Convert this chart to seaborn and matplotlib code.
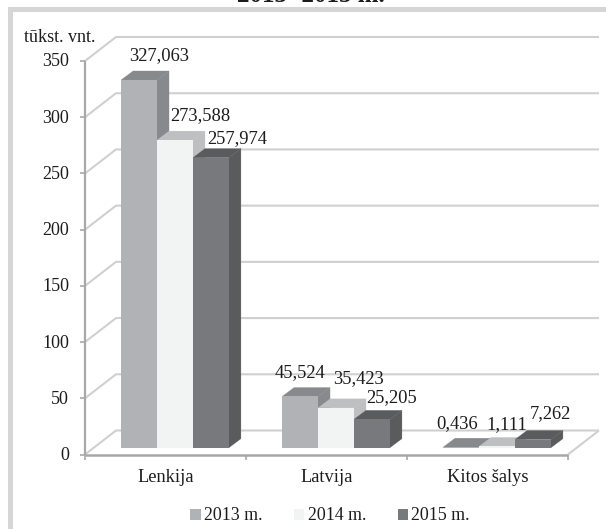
import matplotlib
matplotlib.use("Agg")
import matplotlib.pyplot as plt
import pandas as pd
import seaborn as sns
from matplotlib.lines import Line2D
from matplotlib.patches import Patch, Polygon, Rectangle
from matplotlib.transforms import IdentityTransform

# ---- data ----
countries = ["Lenkija", "Latvija", "Kitos šalys"]
years = ["2013 m.", "2014 m.", "2015 m."]
values_2013 = [327.063, 45.524, 0.436]
values_2014 = [273.588, 35.423, 1.111]
values_2015 = [257.974, 25.205, 7.262]
value_labels_2013 = ["327,063", "45,524", "0,436"]
value_labels_2014 = ["273,588", "35,423", "1,111"]
value_labels_2015 = ["257,974", "25,205", "7,262"]
y_ticks = [0, 50, 100, 150, 200, 250, 300, 350]
title_text = "2013- 2015 m."
unit_text = "tūkst. vnt."

# ---- styles ----
front_colors = ["#b1b2b6", "#f2f3f3", "#78797c"]
side_colors = ["#88898c", "#bebfc1", "#5a5b5d"]
top_colors = ["#88898c", "#bebfc1", "#5a5b5d"]
ink = "#1c1c1c"
W, H = 606, 529

sns.set_theme(style="white")
plt.rcParams["font.family"] = ["Liberation Serif", "DejaVu Serif"]

fig = plt.figure(figsize=(W / 100, H / 100), dpi=100, facecolor="white")
ax = fig.add_axes([85 / W, 1 - 454.5 / H, (568 - 85) / W, (454.5 - 61) / H])
ax.patch.set_alpha(0)

df = pd.DataFrame({
    "country": countries * 3,
    "year": [y for y in years for _ in countries],
    "value": values_2013 + values_2014 + values_2015,
})
sns.barplot(data=df, x="country", y="value", hue="year", palette=front_colors,
            width=0.67, saturation=1, legend=False, ax=ax, linewidth=0)
ax.set_xlim(-0.5, 2.5)
ax.set_ylim(0, 350)
ax.set_xlabel("")
ax.set_ylabel("")
for s in ("top", "right", "bottom", "left"):
    ax.spines[s].set_visible(False)
ax.set_xticks([])
ax.set_yticks([])


def P(x, y, dx=0.0, dy=0.0):
    px, py = ax.transData.transform((x, y))
    return (px + dx, py + dy)


def line(pts, color, lw, z=1):
    fig.add_artist(Line2D([p[0] for p in pts], [p[1] for p in pts], color=color, lw=lw,
                          transform=IdentityTransform(), zorder=z, solid_capstyle="butt"))


def px_text(x, y, s, **kw):
    kw.setdefault("fontsize", 13.3)
    kw.setdefault("color", ink)
    return fig.text(x / W, 1 - y / H, s, **kw)


# page frame
fig.add_artist(Rectangle((8 / W, 0), 5 / W, 1 - 7 / H, transform=fig.transFigure,
                         color="#d6d6d6", lw=0, zorder=0))
fig.add_artist(Rectangle((8 / W, 1 - 12 / H), 1 - 8 / W, 5 / H, transform=fig.transFigure,
                         color="#d6d6d6", lw=0, zorder=0))

# 3D walls
BACK_DX, BACK_DY = 31, 24
grid_c, axis_c = "#d0d0d0", "#a8a8aa"
for t in y_ticks:
    line([P(-0.5, t), P(-0.5, t, BACK_DX, BACK_DY), P(2.5, t, BACK_DX, BACK_DY)], grid_c, 1.5)
    line([P(-0.5, t), P(-0.5, t, -5, 0)], axis_c, 1.2, 2)
    x_, y_ = P(-0.5, t)
    px_text(69, H - y_ + 1, str(t), ha="right", va="center", fontsize=13)
line([P(2.5, 0), P(2.5, 0, BACK_DX, BACK_DY)], grid_c, 1.5)
line([P(-0.5, 0), P(-0.5, 350)], axis_c, 1.6, 2)
line([P(-0.5, 0), P(2.5, 0)], axis_c, 1.8, 2)
for b in (-0.5, 0.5, 1.5, 2.5):
    line([P(b, 0), P(b, 0, 0, -5)], axis_c, 1.2, 2)

# 3D bars derived from the seaborn bars
BAR_DX, BAR_DY = 9.5, 6.8
DEPTH_X, DEPTH_Y = 12, 9
label_sets = [value_labels_2013, value_labels_2014, value_labels_2015]
label_dx = [[20, 0, -4], [25, 23, 10], [26, 20, 17]]
label_dy = [[24, 24, 24], [25, 29, 22], [19, 22, 26]]
z = 5
for h_i, cont in enumerate(ax.containers):
    for c_i, bar in enumerate(cont.patches):
        x0, w, v = bar.get_x(), bar.get_width(), bar.get_height()
        a = P(x0, 0, BAR_DX, BAR_DY)
        b = P(x0 + w, 0, BAR_DX, BAR_DY)
        c = P(x0 + w, v, BAR_DX, BAR_DY)
        d = P(x0, v, BAR_DX, BAR_DY)
        off = lambda p: (p[0] + DEPTH_X, p[1] + DEPTH_Y)
        for pts, col, zz in (([b, off(b), off(c), c], side_colors[h_i], z),
                             ([d, c, off(c), off(d)], top_colors[h_i], z + 1)):
            fig.add_artist(Polygon(pts, closed=True, facecolor=col, edgecolor=col, lw=0.2,
                                   transform=IdentityTransform(), zorder=zz))
        fig.add_artist(Polygon([a, b, c, d], closed=True, facecolor=front_colors[h_i], lw=0,
                               transform=IdentityTransform(), zorder=z + 2))
        bar.set_visible(False)
        z += 3

# value labels
for h_i, cont in enumerate(ax.containers):
    for c_i, bar in enumerate(cont.patches):
        cx, cy = P(bar.get_x() + bar.get_width() / 2, bar.get_height(), BAR_DX, BAR_DY)
        px_text(cx + label_dx[h_i][c_i], H - cy - label_dy[h_i][c_i], label_sets[h_i][c_i],
                ha="center", va="center", zorder=50)

# category labels
for i, name in enumerate(countries):
    cx, _ = P(i, 0)
    px_text(cx + 0.5, 477, name, ha="center", va="center", fontsize=13.2)

px_text(60, 37, unit_text, ha="center", va="center", fontsize=13)
px_text(310.5, 2.5, title_text, ha="center", va="baseline", fontsize=18, fontweight="bold")

handles = [Patch(facecolor=c, edgecolor="none", label=y) for c, y in zip(front_colors, years)]
fig.legend(handles=handles, loc="center", bbox_to_anchor=(330 / W, 1 - 516 / H), ncol=3,
           frameon=False, fontsize=12.9, handlelength=0.58, handleheight=0.58,
           handletextpad=0.17, columnspacing=1.78, borderpad=0, labelcolor=ink)

fig.savefig("out.png", dpi=100, facecolor="white")
